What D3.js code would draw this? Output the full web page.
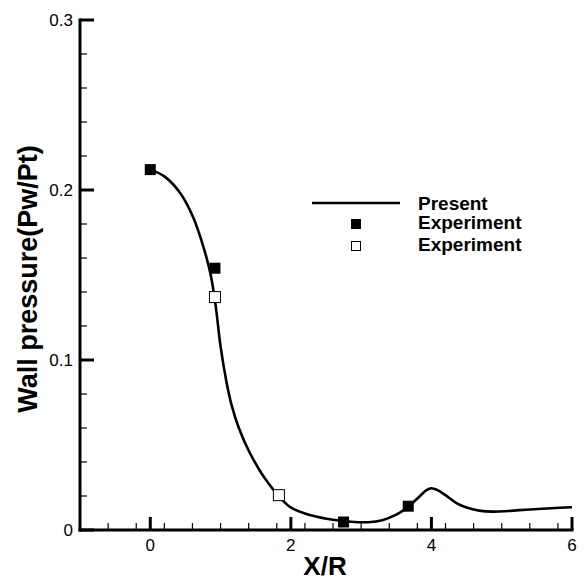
<!DOCTYPE html>
<html>
<head>
<meta charset="utf-8">
<script src="https://cdn.jsdelivr.net/npm/d3@7"></script>
<style>
  body { margin: 0; background: #fff; }
  text { font-family: "Liberation Sans", Arial, sans-serif; }
</style>
</head>
<body>
<div id="chart"></div>
<script>
// curve "Present"
const presentX = [0, 0.2, 0.43, 0.61, 0.76, 0.86, 0.93, 1.0, 1.08, 1.16, 1.26, 1.42, 1.68, 1.99, 2.3, 2.6, 2.9, 3.1, 3.3, 3.5, 3.68, 3.83, 3.93, 4.0, 4.08, 4.2, 4.35, 4.5, 4.68, 4.88, 5.1, 5.4, 5.7, 6.0];
const presentY = [0.212, 0.208, 0.198, 0.184, 0.166, 0.150, 0.132, 0.108, 0.088, 0.073, 0.060, 0.045, 0.0275, 0.0135, 0.0085, 0.006, 0.0047, 0.0046, 0.0058, 0.009, 0.014, 0.0197, 0.0235, 0.0246, 0.0236, 0.0205, 0.016, 0.0132, 0.0114, 0.0108, 0.0112, 0.0121, 0.0128, 0.0134];

// experiment, filled squares
const expFilledX = [0, 0.92, 2.75, 3.67];
const expFilledY = [0.212, 0.154, 0.0047, 0.014];

// experiment, open squares
const expOpenX = [0.92, 1.83];
const expOpenY = [0.137, 0.0205];

const xTicks = [0, 2, 4, 6];
const yTicks = [0, 0.1, 0.2, 0.3];

const width = 585, height = 584;
const svg = d3.select("#chart").append("svg")
    .attr("width", width)
    .attr("height", height);

const x = d3.scaleLinear().domain([-1, 6]).range([80, 572]);
const y = d3.scaleLinear().domain([0, 0.3]).range([530, 20]);

// axis lines
const axisG = svg.append("g");
axisG.append("line")
    .attr("x1", x(-1)).attr("x2", x(-1))
    .attr("y1", y(0) + 1.5).attr("y2", y(0.3) - 1.5)
    .attr("stroke", "#000").attr("stroke-width", 3);
axisG.append("line")
    .attr("x1", x(-1) - 1.5).attr("x2", x(6) + 1.5)
    .attr("y1", y(0)).attr("y2", y(0))
    .attr("stroke", "#000").attr("stroke-width", 3);

// ticks point inwards
const xMinor = d3.range(-1, 6.0001, 0.4).filter(v => !xTicks.some(t => Math.abs(t - v) < 1e-6));
const yMinor = d3.range(0, 0.3001, 0.02).filter(v => !yTicks.some(t => Math.abs(t - v) < 1e-6));

axisG.selectAll(".xmaj").data(xTicks).enter().append("line")
    .attr("x1", d => x(d)).attr("x2", d => x(d))
    .attr("y1", y(0)).attr("y2", y(0) - 13)
    .attr("stroke", "#000").attr("stroke-width", 3);
axisG.selectAll(".xmin").data(xMinor).enter().append("line")
    .attr("x1", d => x(d)).attr("x2", d => x(d))
    .attr("y1", y(0)).attr("y2", y(0) - 7)
    .attr("stroke", "#000").attr("stroke-width", 1.2);
axisG.selectAll(".ymaj").data(yTicks).enter().append("line")
    .attr("x1", x(-1)).attr("x2", x(-1) + 14)
    .attr("y1", d => y(d)).attr("y2", d => y(d))
    .attr("stroke", "#000").attr("stroke-width", 3);
axisG.selectAll(".ymin").data(yMinor).enter().append("line")
    .attr("x1", x(-1)).attr("x2", x(-1) + 7)
    .attr("y1", d => y(d)).attr("y2", d => y(d))
    .attr("stroke", "#000").attr("stroke-width", 1.2);

// tick labels
axisG.selectAll(".xlab").data(xTicks).enter().append("text")
    .attr("x", d => x(d)).attr("y", y(0) + 21)
    .attr("text-anchor", "middle")
    .attr("font-size", 17)
    .text(d => d);
axisG.selectAll(".ylab").data(yTicks).enter().append("text")
    .attr("x", x(-1) - 7).attr("y", d => y(d) + 6)
    .attr("text-anchor", "end")
    .attr("font-size", 17)
    .text(d => d === 0 ? "0" : d3.format(".1f")(d));

// axis titles
svg.append("text")
    .attr("x", 325).attr("y", 575)
    .attr("text-anchor", "middle")
    .attr("font-size", 26).attr("font-weight", "bold")
    .text("X/R");
svg.append("text")
    .attr("transform", "translate(37,279) rotate(-90)")
    .attr("text-anchor", "middle")
    .attr("font-size", 27).attr("font-weight", "bold")
    .text("Wall pressure(Pw/Pt)");

// present curve
const presentData = presentX.map((d, i) => [d, presentY[i]]);
svg.append("path")
    .datum(presentData)
    .attr("fill", "none")
    .attr("stroke", "#000")
    .attr("stroke-width", 2.6)
    .attr("d", d3.line().x(d => x(d[0])).y(d => y(d[1])).curve(d3.curveCatmullRom.alpha(0.5)));

// experiment markers
const sq = 11;
svg.selectAll(".filled").data(expFilledX).enter().append("rect")
    .attr("x", (d, i) => x(d) - sq / 2)
    .attr("y", (d, i) => y(expFilledY[i]) - sq / 2)
    .attr("width", sq).attr("height", sq)
    .attr("fill", "#000");
svg.selectAll(".open").data(expOpenX).enter().append("rect")
    .attr("x", (d, i) => x(d) - sq / 2)
    .attr("y", (d, i) => y(expOpenY[i]) - sq / 2)
    .attr("width", sq).attr("height", sq)
    .attr("fill", "#fff").attr("stroke", "#000").attr("stroke-width", 1);

// legend
const legend = svg.append("g").attr("font-size", 19).attr("font-weight", "bold");
legend.append("line")
    .attr("x1", 312).attr("x2", 400).attr("y1", 203).attr("y2", 203)
    .attr("stroke", "#000").attr("stroke-width", 2.6);
legend.append("text").attr("x", 418).attr("y", 210).text("Present");
legend.append("rect").attr("x", 351).attr("y", 219).attr("width", 10).attr("height", 10).attr("fill", "#000");
legend.append("text").attr("x", 418).attr("y", 229).text("Experiment");
legend.append("rect").attr("x", 351.5).attr("y", 241.5).attr("width", 9).attr("height", 9)
    .attr("fill", "#fff").attr("stroke", "#000").attr("stroke-width", 1);
legend.append("text").attr("x", 418).attr("y", 251).text("Experiment");
</script>
</body>
</html>
